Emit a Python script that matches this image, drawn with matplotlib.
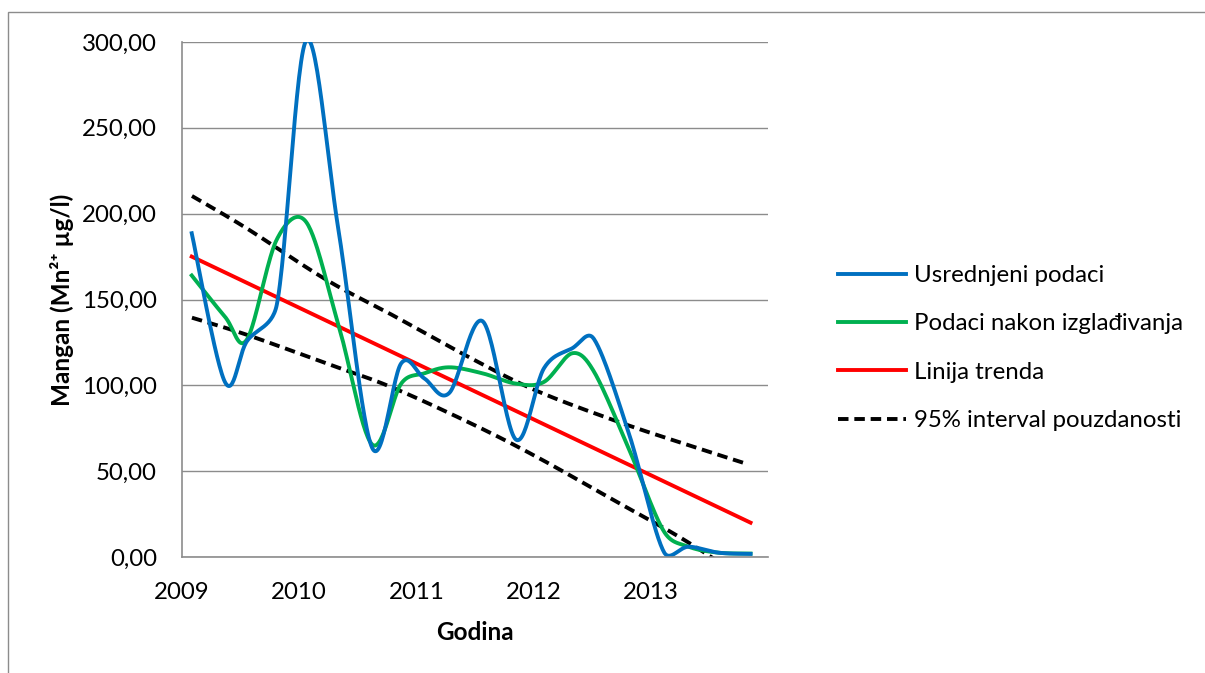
import numpy as np
import matplotlib
matplotlib.use('Agg')
import matplotlib.pyplot as plt
from matplotlib.ticker import FuncFormatter, MultipleLocator
from matplotlib.patches import Rectangle
from matplotlib.lines import Line2D

plt.rcParams['font.family'] = ['Lato', 'DejaVu Sans']

# datumi mjerenja (decimalna godina)
godine = [2009.083, 2009.366, 2009.553, 2009.809, 2010.061, 2010.336, 2010.623,
          2010.870, 2011.068, 2011.281, 2011.564, 2011.849, 2012.089, 2012.330,
          2012.515, 2012.813, 2013.111, 2013.323, 2013.579, 2013.851]
usrednjeni = [188.6, 102.0, 125.6, 147.0, 301.0, 190.0, 63.5, 112.8, 104.0, 95.6,
              137.4, 68.4, 110.0, 121.6, 127.0, 72.0, 3.0, 6.0, 2.5, 1.8]
izgladjeni = [164.0, 140.0, 126.6, 185.0, 195.0, 135.0, 65.5, 101.0, 107.0, 110.5,
              107.0, 101.0, 102.0, 118.7, 108.0, 63.0, 15.0, 6.0, 2.5, 2.0]

trend_x = [2009.083, 2013.851]
trend_y = [175.0, 20.0]

interval_x = [2009.085, 2009.551, 2010.231, 2010.785, 2011.46, 2012.019, 2012.70, 2013.26, 2013.83]
interval_gornji = [210.3, 191.5, 161.5, 141.3, 116.0, 97.0, 79.3, 66.5, 54.0]
interval_donji = [139.4, 129.5, 112.8, 99.0, 78.0, 58.6, 32.5, 11.0, -14.0]

legenda = ['Usrednjeni podaci', 'Podaci nakon izglađivanja', 'Linija trenda',
           '95% interval pouzdanosti']


def cap(v, seg):
    # keep control handle shorter than half of the segment
    lim = 0.5 * np.hypot(*seg)
    n = np.hypot(*v)
    return v * min(1.0, lim / n) if n > 0 else v


def smooth(x, y, sx=117.5, sy=1.713, n=30):
    # excel-like smoothed line (bezier through the points, in pixel scale)
    p = np.column_stack([np.asarray(x, float) * sx, np.asarray(y, float) * sy])
    p = np.vstack([p[0], p, p[-1]])
    t = np.linspace(0, 1, n)[:, None]
    out = []
    for i in range(1, len(p) - 2):
        a, b = p[i], p[i + 1]
        c1 = a + cap((p[i + 1] - p[i - 1]) / 6, b - a)
        c2 = b - cap((p[i + 2] - p[i]) / 6, b - a)
        seg = (1 - t) ** 3 * a + 3 * (1 - t) ** 2 * t * c1 + 3 * (1 - t) * t ** 2 * c2 + t ** 3 * b
        out.append(seg if i == 1 else seg[1:])
    out = np.vstack(out)
    return out[:, 0] / sx, out[:, 1] / sy


fig = plt.figure(figsize=(12.05, 6.73), dpi=100)
ax = fig.add_axes([182 / 1205, 1 - 557 / 673, (768 - 182) / 1205, (557 - 42) / 673])

lw = 2.8
fs = 17.3
dash = dict(color='black', lw=lw, ls=(0, (2.7, 1.5)), dash_capstyle='butt')

ax.plot(*smooth(interval_x, interval_gornji), **dash)
ax.plot(*smooth(interval_x, interval_donji), **dash)
ax.plot(trend_x, trend_y, color='#FF0000', lw=lw)
ax.plot(*smooth(godine, izgladjeni), color='#00B050', lw=lw)
ax.plot(*smooth(godine, usrednjeni), color='#0070C0', lw=lw)

ax.set_xlim(2009, 2014)
ax.set_ylim(0, 300)
ax.set_xticks([2009, 2010, 2011, 2012, 2013])
ax.yaxis.set_major_locator(MultipleLocator(50))
ax.yaxis.set_major_formatter(FuncFormatter(lambda v, p: f'{v:.2f}'.replace('.', ',')))
ax.grid(axis='y', color='#8c8c8c', lw=1)
ax.set_axisbelow(True)
for s in ['top', 'right']:
    ax.spines[s].set_visible(False)
for s in ['left', 'bottom']:
    ax.spines[s].set_color('#8c8c8c')
    ax.spines[s].set_linewidth(1.2)
ax.tick_params(axis='both', length=0, labelsize=fs)
ax.tick_params(axis='y', pad=18)
ax.tick_params(axis='x', pad=18)

fig.text(62 / 1205, 1 - 300 / 673, 'Mangan (Mn²⁺ µg/l)', rotation=90, ha='center',
         va='center', fontsize=17.5, fontweight='bold')
fig.text(475 / 1205, 1 - 633 / 673, 'Godina', ha='center', va='center',
         fontsize=17.5, fontweight='bold')

handles = [Line2D([], [], color='#0070C0', lw=lw),
           Line2D([], [], color='#00B050', lw=lw),
           Line2D([], [], color='#FF0000', lw=lw),
           Line2D([], [], **dash)]
fig.legend(handles, legenda, loc='upper left', bbox_to_anchor=(838 / 1205, 1 - 265 / 673),
           frameon=False, fontsize=fs, borderpad=0, borderaxespad=0,
           handlelength=2.85, handletextpad=0.33, labelspacing=1.14)

fig.add_artist(Rectangle((8 / 1205, -0.5), 1.5, 1.5 - 12 / 673, transform=fig.transFigure,
                         fill=False, edgecolor='#8c8c8c', lw=1))

fig.savefig('out.png', dpi=100)
